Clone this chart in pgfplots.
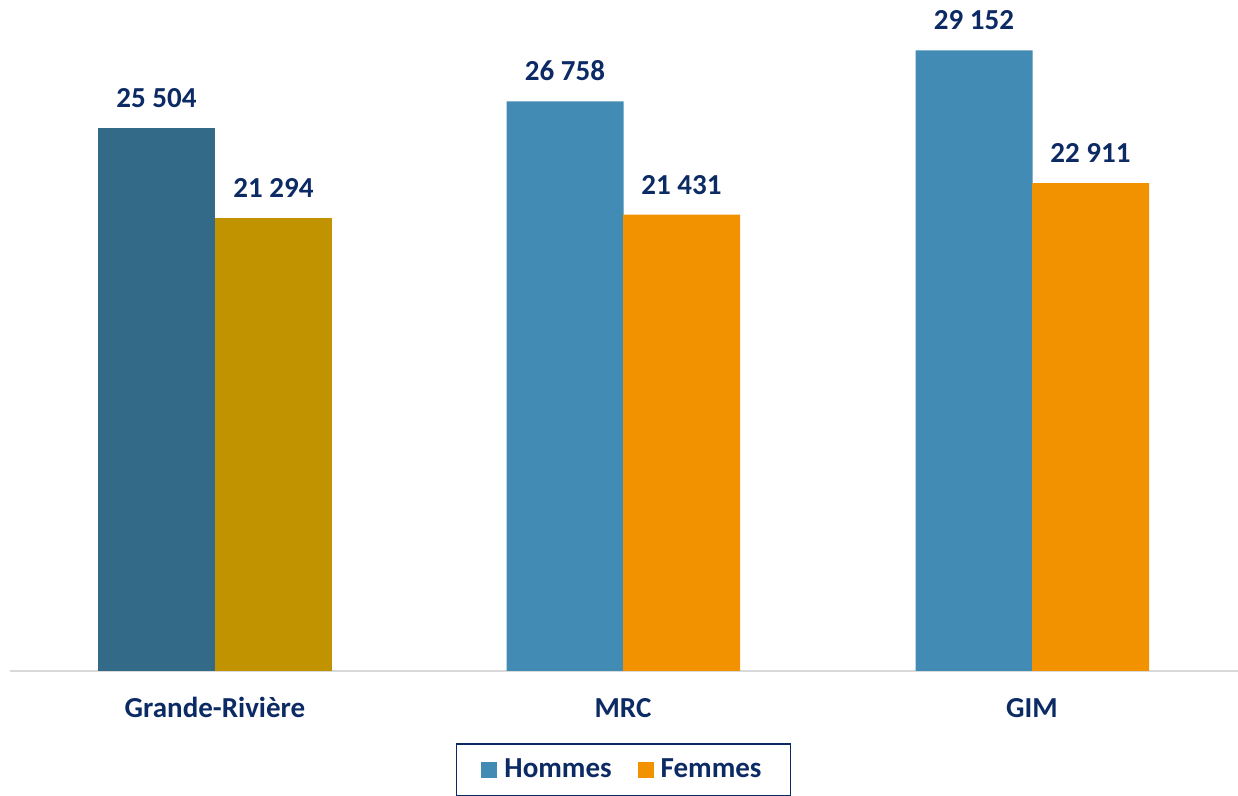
\documentclass[border=0pt]{standalone}
\usepackage{fontspec}
\setmainfont{Carlito}
\usepackage{pgfplots}
\pgfplotsset{compat=1.18}
\definecolor{grh}{HTML}{336A87}
\definecolor{grf}{HTML}{C19300}
\definecolor{hom}{HTML}{428BB4}
\definecolor{fem}{HTML}{F39200}
\definecolor{navy}{HTML}{0C2A63}
\definecolor{axgray}{HTML}{D9D9D9}
\newcommand{\lbl}{\fontsize{14.5}{17}\selectfont\bfseries}

\begin{document}
\begin{tikzpicture}
\useasboundingbox (0,-62.5pt) rectangle (619pt,335.5pt);
\begin{axis}[
  at={(5pt,0pt)}, anchor=south west,
  scale only axis, width=614pt, height=335.5pt,
  xmin=10, xmax=1238, ymin=0, ymax=31517,
  hide y axis,
  axis x line*=bottom,
  x axis line style={draw=axgray, line width=1pt, -},
  xtick={215,623,1032},
  xticklabels={Grande-Rivière,MRC,GIM},
  major tick length=0pt,
  xticklabel style={font=\lbl, text=navy, anchor=base, inner sep=0pt, yshift=-23.5pt},
  point meta=explicit symbolic,
  nodes near coords,
  every node near coord/.append style={font=\lbl, text=navy, anchor=south, inner sep=0pt, yshift=10pt},
  legend columns=2,
  legend style={at={(0.4996,-0.1073)}, anchor=north, draw=navy, line width=0.8pt,
    font=\lbl, text=navy, inner xsep=12.5pt, inner ysep=5.5pt,
    /tikz/every odd column/.style={column sep=1.5pt},
    /tikz/every even column/.style={column sep=11pt}},
  legend image code/.code={\fill[#1, draw=none] (0pt,-4pt) rectangle (8pt,4pt);},
]
\addplot[ybar, bar width=117, bar shift=0pt, fill=grh, draw=none, forget plot]
  coordinates {(156.5,25504) [25 504]};
\addplot[ybar, bar width=117, bar shift=0pt, fill=grf, draw=none, forget plot]
  coordinates {(273.5,21294) [21 294]};
\addplot[ybar, bar width=117, bar shift=0pt, fill=hom, draw=none, forget plot]
  coordinates {(565,26758) [26 758] (974,29152) [29 152]};
\addplot[ybar, bar width=117, bar shift=0pt, fill=fem, draw=none, forget plot]
  coordinates {(681.5,21431) [21 431] (1090.5,22911) [22 911]};
\addlegendimage{fill=hom, draw=none}
\addlegendentry{Hommes}
\addlegendimage{fill=fem, draw=none}
\addlegendentry{Femmes}
\end{axis}
\end{tikzpicture}
\end{document}
